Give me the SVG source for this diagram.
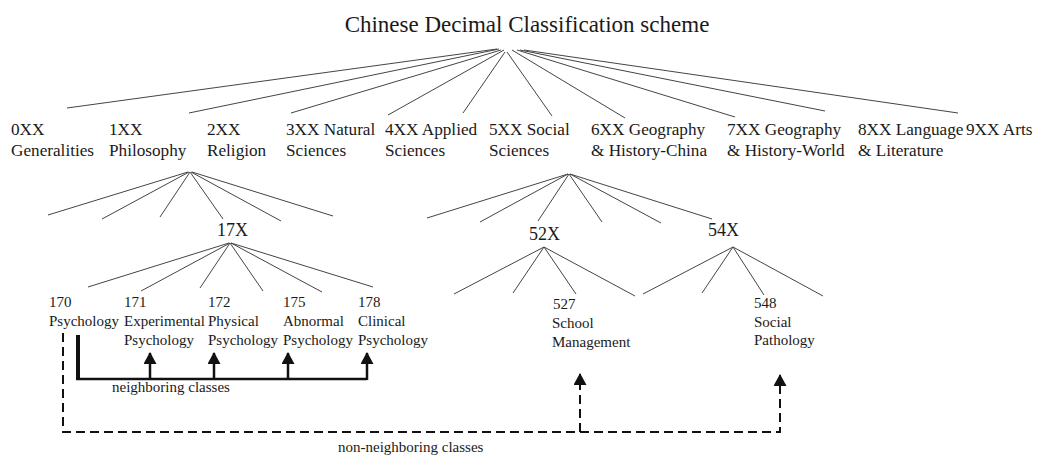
<svg xmlns="http://www.w3.org/2000/svg" width="1058" height="474" viewBox="0 0 1058 474">
<style>
text{font-family:"Liberation Serif","Times New Roman",serif;fill:#1a1a1a}
.t{font-size:23px}
.l1{font-size:17.2px}
.l2{font-size:18px}
.l3{font-size:15px}
.e{stroke:#444;stroke-width:1;fill:none}
.nb{stroke:#111;fill:none;stroke-width:2.5}
.dsh{stroke:#111;fill:none;stroke-width:2;stroke-dasharray:9 5}
</style>
<defs>
<marker id="ah" viewBox="0 0 12 13" refX="11" refY="6.5" markerWidth="12" markerHeight="13" markerUnits="userSpaceOnUse" orient="auto">
<path d="M0,0 L12,6.5 L0,13 Z" fill="#111"/>
</marker>
</defs>
<rect width="1058" height="474" fill="#fff"/>
<g id="title"><text class="t" x="527" y="32" text-anchor="middle">Chinese Decimal Classification scheme</text></g>
<g id="connectors">
<g class="e">
<line x1="497" y1="49" x2="67" y2="108"/>
<line x1="499" y1="49" x2="189" y2="113"/>
<line x1="501" y1="50" x2="291" y2="113"/>
<line x1="504" y1="50" x2="388" y2="115"/>
<line x1="505" y1="52" x2="463" y2="113"/>
<line x1="507" y1="52" x2="552" y2="116"/>
<line x1="512" y1="50" x2="625" y2="118"/>
<line x1="517" y1="50" x2="735" y2="117"/>
<line x1="520" y1="50" x2="825" y2="111"/>
<line x1="524" y1="50" x2="958" y2="113"/>
<line x1="188" y1="172" x2="48" y2="215"/>
<line x1="189" y1="172" x2="102" y2="219"/>
<line x1="190" y1="172" x2="160" y2="217"/>
<line x1="190" y1="172" x2="223" y2="219"/>
<line x1="191" y1="172" x2="281" y2="221"/>
<line x1="192" y1="172" x2="333" y2="216"/>
<line x1="229" y1="243" x2="88" y2="287"/>
<line x1="230" y1="243" x2="141" y2="291"/>
<line x1="230" y1="243" x2="200" y2="288"/>
<line x1="230" y1="243" x2="263" y2="291"/>
<line x1="231" y1="243" x2="322" y2="292"/>
<line x1="231" y1="243" x2="373" y2="287"/>
<line x1="568" y1="174" x2="427" y2="218"/>
<line x1="568" y1="174" x2="480" y2="222"/>
<line x1="569" y1="174" x2="538" y2="221"/>
<line x1="569" y1="174" x2="602" y2="222"/>
<line x1="570" y1="174" x2="661" y2="223"/>
<line x1="570" y1="174" x2="712" y2="219"/>
<line x1="544" y1="247" x2="454" y2="294"/>
<line x1="544" y1="247" x2="513" y2="293"/>
<line x1="544" y1="247" x2="576" y2="294"/>
<line x1="544" y1="247" x2="635" y2="296"/>
<line x1="733" y1="247" x2="643" y2="294"/>
<line x1="733" y1="247" x2="702" y2="293"/>
<line x1="733" y1="247" x2="764" y2="295"/>
<line x1="733" y1="247" x2="823" y2="296"/>
</g>
<g id="neighboring">
<line x1="78" y1="335" x2="78" y2="380" stroke="#111" stroke-width="4"/>
<polyline class="nb" points="76,379 367,379"/>
<line class="nb" x1="150" y1="379" x2="150" y2="353" marker-end="url(#ah)" stroke-width="2"/>
<line class="nb" x1="214" y1="379" x2="214" y2="353" marker-end="url(#ah)" stroke-width="2"/>
<line class="nb" x1="288" y1="379" x2="288" y2="353" marker-end="url(#ah)" stroke-width="2"/>
<line class="nb" x1="367" y1="380" x2="367" y2="353" marker-end="url(#ah)" stroke-width="2"/>
</g>
<g id="nonneighboring">
<polyline class="dsh" points="63,333 63,432 780,432 780,375" marker-end="url(#ah)"/>
<line class="dsh" x1="580" y1="432" x2="580" y2="374" marker-end="url(#ah)"/>
</g>
</g>
<g id="n0XX"><text class="l1" x="11" y="135">0XX</text><text class="l1" x="11" y="156">Generalities</text></g>
<g id="n1XX"><text class="l1" x="109" y="135">1XX</text><text class="l1" x="109" y="156">Philosophy</text></g>
<g id="n2XX"><text class="l1" x="207" y="135">2XX</text><text class="l1" x="207" y="156">Religion</text></g>
<g id="n3XX"><text class="l1" x="286" y="135">3XX Natural</text><text class="l1" x="286" y="156">Sciences</text></g>
<g id="n4XX"><text class="l1" x="385" y="135">4XX Applied</text><text class="l1" x="385" y="156">Sciences</text></g>
<g id="n5XX"><text class="l1" x="489" y="135">5XX Social</text><text class="l1" x="489" y="156">Sciences</text></g>
<g id="n6XX"><text class="l1" x="591" y="135">6XX Geography</text><text class="l1" x="591" y="156">&amp; History-China</text></g>
<g id="n7XX"><text class="l1" x="727" y="135">7XX Geography</text><text class="l1" x="727" y="156">&amp; History-World</text></g>
<g id="n8XX"><text class="l1" x="858" y="135">8XX Language</text><text class="l1" x="858" y="156">&amp; Literature</text></g>
<g id="n9XX"><text class="l1" x="966" y="135">9XX Arts</text></g>
<g id="n17X"><text class="l2" x="217" y="236">17X</text></g>
<g id="n52X"><text class="l2" x="529" y="240">52X</text></g>
<g id="n54X"><text class="l2" x="708" y="236">54X</text></g>
<g id="n170"><text class="l3" x="49" y="307">170</text><text class="l3" x="49" y="326">Psychology</text></g>
<g id="n171"><text class="l3" x="124" y="307">171</text><text class="l3" x="124" y="326">Experimental</text><text class="l3" x="124" y="345">Psychology</text></g>
<g id="n172"><text class="l3" x="208" y="307">172</text><text class="l3" x="208" y="326">Physical</text><text class="l3" x="208" y="345">Psychology</text></g>
<g id="n175"><text class="l3" x="283" y="307">175</text><text class="l3" x="283" y="326">Abnormal</text><text class="l3" x="283" y="345">Psychology</text></g>
<g id="n178"><text class="l3" x="358" y="307">178</text><text class="l3" x="358" y="326">Clinical</text><text class="l3" x="358" y="345">Psychology</text></g>
<g id="n527"><text class="l3" x="553" y="309">527</text><text class="l3" x="552" y="328">School</text><text class="l3" x="552" y="347">Management</text></g>
<g id="n548"><text class="l3" x="754" y="308">548</text><text class="l3" x="754" y="327">Social</text><text class="l3" x="754" y="345">Pathology</text></g>
<g id="labels"><text class="l3" x="112" y="392">neighboring classes</text><text class="l3" x="338" y="452">non-neighboring classes</text></g>
</svg>
